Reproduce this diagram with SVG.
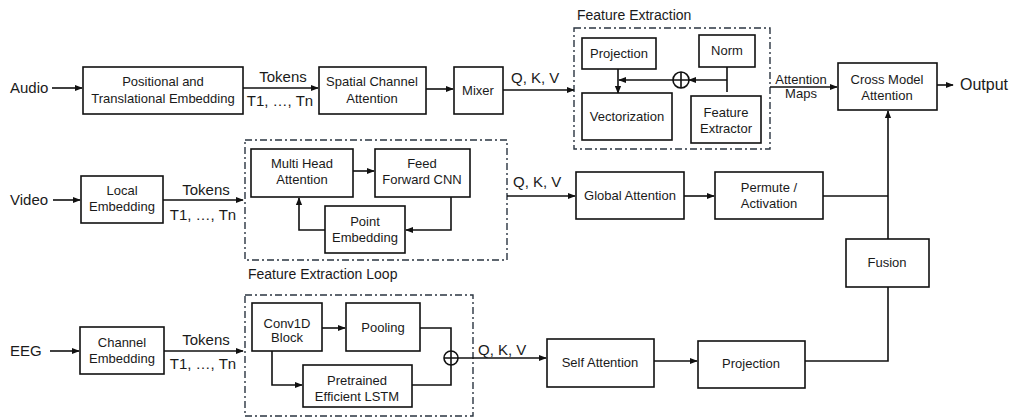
<svg xmlns="http://www.w3.org/2000/svg" width="1016" height="417" viewBox="0 0 1016 417">
<style>
text{font-family:"Liberation Sans",Arial,sans-serif;fill:#1a1a1a}
.bt{font-size:13px;text-anchor:middle}
.lb{font-size:15px}
.box{fill:#fff;stroke:#111;stroke-width:1.6}
.dash{fill:none;stroke:#2a3440;stroke-width:1.4;stroke-dasharray:7 3 2 3}
.ln{fill:none;stroke:#111;stroke-width:1.6}
.ar{fill:none;stroke:#111;stroke-width:1.6;marker-end:url(#ah)}
</style>
<defs>
<marker id="ah" viewBox="0 0 10 10" refX="9" refY="5" markerWidth="5" markerHeight="5" orient="auto" markerUnits="strokeWidth"><path d="M0,1 L10,5 L0,9 z" fill="#111"/></marker>
</defs>
<rect width="1016" height="417" fill="#fff"/>

<g id="groups">
<rect class="dash" x="574" y="28" width="196" height="121"/>
<text x="577" y="20" font-size="14">Feature Extraction</text>
<rect class="dash" x="245" y="140" width="262" height="120"/>
<text x="248" y="279" font-size="14">Feature Extraction Loop</text>
<rect class="dash" x="245" y="295" width="228" height="121"/>
</g>

<g id="connectors">
<path class="ar" d="M52,88 H82"/>
<path class="ar" d="M243,88 H318"/>
<path class="ar" d="M426,89 H453"/>
<path class="ar" d="M503,90 H574"/>
<path class="ar" d="M618,69 V93"/>
<path class="ln" d="M727,67 V92"/>
<path class="ar" d="M727,80 H689"/>
<path class="ar" d="M673,80 H619"/>
<path class="ar" d="M770,87 H837"/>
<path class="ar" d="M937,85 H953"/>
<path class="ar" d="M53,200 H80"/>
<path class="ar" d="M163,200 H243"/>
<path class="ar" d="M353,171 H374"/>
<path class="ar" d="M451,197 V230 H406"/>
<path class="ar" d="M325,230 H299 V198"/>
<path class="ar" d="M507,196 H575"/>
<path class="ar" d="M684,196 H714"/>
<path class="ln" d="M823,196 H888"/>
<path class="ar" d="M888,239 V111"/>
<path class="ar" d="M50,351 H79"/>
<path class="ar" d="M164,351 H243"/>
<path class="ar" d="M322,328 H345"/>
<path class="ar" d="M272,351 V385 H302"/>
<path class="ln" d="M420,328 H451 V351"/>
<path class="ln" d="M412,385 H451 V365"/>
<path class="ar" d="M458,358 H546"/>
<path class="ar" d="M654,361 H697"/>
<path class="ln" d="M805,361 H888 V287"/>
<circle cx="681" cy="80" r="8" class="box"/>
<path class="ln" d="M673,80 H689 M681,72 V88"/>
<circle cx="451" cy="358" r="7" class="box"/>
<path class="ln" d="M444,358 H458 M451,351 V365"/>
</g>

<g id="labels">
<text class="lb" x="10" y="93">Audio</text>
<text class="lb" x="283" y="82" text-anchor="middle">Tokens</text>
<text class="lb" x="280" y="106" text-anchor="middle">T1, …, Tn</text>
<text class="lb" x="511" y="83">Q, K, V</text>
<text class="bt" x="801" y="84">Attention</text>
<text class="bt" x="801" y="98">Maps</text>
<text x="960" y="90" font-size="16">Output</text>
<text class="lb" x="10" y="205">Video</text>
<text class="lb" x="206" y="195" text-anchor="middle">Tokens</text>
<text class="lb" x="203" y="220" text-anchor="middle">T1, …, Tn</text>
<text class="lb" x="513" y="187">Q, K, V</text>
<text class="lb" x="10" y="356">EEG</text>
<text class="lb" x="206" y="345" text-anchor="middle">Tokens</text>
<text class="lb" x="203" y="369" text-anchor="middle">T1, …, Tn</text>
<text class="lb" x="478" y="355">Q, K, V</text>
</g>

<g id="n-posemb"><rect class="box" x="83" y="67" width="160" height="47"/><text class="bt" x="163" y="86">Positional and</text><text class="bt" x="163" y="103">Translational Embedding</text></g>
<g id="n-spatial"><rect class="box" x="319" y="67" width="107" height="47"/><text class="bt" x="372" y="86">Spatial Channel</text><text class="bt" x="372" y="103">Attention</text></g>
<g id="n-mixer"><rect class="box" x="454" y="67" width="49" height="47"/><text class="bt" x="478" y="95">Mixer</text></g>
<g id="n-proj1"><rect class="box" x="582" y="38" width="74" height="31"/><text class="bt" x="619" y="58">Projection</text></g>
<g id="n-vect"><rect class="box" x="582" y="93" width="90" height="47"/><text class="bt" x="627" y="121">Vectorization</text></g>
<g id="n-norm"><rect class="box" x="699" y="35" width="56" height="32"/><text class="bt" x="727" y="55">Norm</text></g>
<g id="n-fext"><rect class="box" x="691" y="96" width="70" height="47"/><text class="bt" x="726" y="117">Feature</text><text class="bt" x="726" y="133">Extractor</text></g>
<g id="n-cross"><rect class="box" x="838" y="63" width="99" height="47"/><text class="bt" x="887" y="84">Cross Model</text><text class="bt" x="887" y="100">Attention</text></g>
<g id="n-local"><rect class="box" x="81" y="176" width="82" height="47"/><text class="bt" x="122" y="195">Local</text><text class="bt" x="122" y="211">Embedding</text></g>
<g id="n-mha"><rect class="box" x="251" y="149" width="102" height="48"/><text class="bt" x="302" y="168">Multi Head</text><text class="bt" x="302" y="184">Attention</text></g>
<g id="n-ffc"><rect class="box" x="375" y="149" width="95" height="48"/><text class="bt" x="422" y="168">Feed</text><text class="bt" x="422" y="184">Forward CNN</text></g>
<g id="n-point"><rect class="box" x="325" y="206" width="80" height="47"/><text class="bt" x="365" y="226">Point</text><text class="bt" x="365" y="242">Embedding</text></g>
<g id="n-global"><rect class="box" x="576" y="172" width="108" height="47"/><text class="bt" x="630" y="200">Global Attention</text></g>
<g id="n-permute"><rect class="box" x="715" y="172" width="108" height="47"/><text class="bt" x="769" y="192">Permute /</text><text class="bt" x="769" y="208">Activation</text></g>
<g id="n-fusion"><rect class="box" x="846" y="239" width="83" height="48"/><text class="bt" x="887" y="267">Fusion</text></g>
<g id="n-chemb"><rect class="box" x="80" y="327" width="84" height="47"/><text class="bt" x="122" y="347">Channel</text><text class="bt" x="122" y="363">Embedding</text></g>
<g id="n-conv"><rect class="box" x="252" y="303" width="70" height="48"/><text class="bt" x="287" y="328">Conv1D</text><text class="bt" x="287" y="342">Block</text></g>
<g id="n-pool"><rect class="box" x="346" y="303" width="74" height="48"/><text class="bt" x="383" y="332">Pooling</text></g>
<g id="n-lstm"><rect class="box" x="303" y="365" width="109" height="42"/><text class="bt" x="357" y="385">Pretrained</text><text class="bt" x="357" y="401">Efficient LSTM</text></g>
<g id="n-self"><rect class="box" x="547" y="339" width="107" height="48"/><text class="bt" x="600" y="367">Self Attention</text></g>
<g id="n-proj2"><rect class="box" x="698" y="341" width="107" height="47"/><text class="bt" x="751" y="368">Projection</text></g>
</svg>
